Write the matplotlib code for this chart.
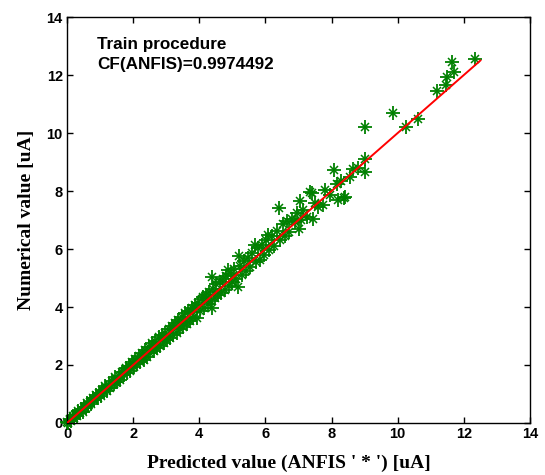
import matplotlib
matplotlib.use("Agg")
import matplotlib.pyplot as plt

# Predicted value (ANFIS) vs numerical value
x_pred = [0.00, 0.04, 0.08, 0.12, 0.17, 0.21, 0.25, 0.30, 0.34, 0.38, 0.43, 0.47,
          0.52, 0.56, 0.60, 0.65, 0.70, 0.74, 0.79, 0.83, 0.88, 0.93, 0.97, 1.02,
          1.07, 1.12, 1.16, 1.21, 1.26, 1.31, 1.36, 1.41, 1.46, 1.51, 1.56, 1.61,
          1.66, 1.71, 1.77, 1.82, 1.87, 1.92, 1.97,
          2.02, 2.07, 2.12, 2.17, 2.22, 2.27, 2.32, 2.37, 2.42, 2.47, 2.52, 2.57,
          2.62, 2.67, 2.72, 2.77, 2.82, 2.87, 2.92, 2.97, 3.02, 3.07, 3.12, 3.17,
          3.22, 3.27, 3.32, 3.37, 3.42, 3.47, 3.52, 3.57, 3.62, 3.67, 3.72, 3.77,
          3.82, 3.87, 3.92, 3.97,
          0.10, 0.35, 0.62, 0.90, 1.18, 1.45, 1.73, 2.00, 2.30, 2.60, 2.90, 3.20,
          3.50, 3.80,
          4.02, 4.07, 4.12, 4.15, 4.20, 4.25, 4.30, 4.35, 4.37, 4.37, 4.42, 4.47,
          4.52, 4.57, 4.62, 4.67, 4.72, 4.77, 4.82, 4.88, 4.90, 4.95, 5.00, 5.05,
          5.10, 5.18, 5.20, 5.22, 5.28, 5.35, 5.40, 5.47, 5.52, 5.60, 5.68, 5.72,
          5.78, 5.84, 5.90, 5.96,
          6.02, 6.09, 6.12, 6.20, 6.27, 6.35, 6.42, 6.45, 6.52, 6.58, 6.65, 6.72,
          6.80, 6.88, 6.95, 7.00, 7.05, 7.07, 7.15, 7.25, 7.35, 7.40, 7.45, 7.50,
          7.60, 7.75, 7.80, 7.95, 8.08, 8.15, 8.20, 8.30, 8.39, 8.40, 8.55, 8.65,
          8.80, 9.01, 9.01, 9.01,
          9.85, 10.25, 10.62, 11.18, 11.45, 11.48, 11.70, 11.63, 12.34]

y_num = [0.02, 0.01, 0.13, 0.08, 0.23, 0.16, 0.28, 0.23, 0.42, 0.36, 0.49, 0.39,
         0.56, 0.51, 0.69, 0.59, 0.73, 0.65, 0.86, 0.79, 0.98, 0.86, 1.02, 0.92,
         1.15, 1.09, 1.27, 1.12, 1.32, 1.19, 1.45, 1.36, 1.58, 1.41, 1.63, 1.48,
         1.76, 1.65, 1.91, 1.71, 1.95, 1.78, 2.09,
         1.93, 2.21, 2.04, 2.30, 2.10, 2.41, 2.18, 2.52, 2.29, 2.63, 2.40, 2.75,
         2.47, 2.83, 2.58, 2.96, 2.64, 3.05, 2.76, 3.12, 2.85, 3.25, 2.94, 3.33,
         3.05, 3.46, 3.12, 3.55, 3.25, 3.66, 3.31, 3.78, 3.42, 3.86, 3.51, 3.97,
         3.62, 4.08, 3.61, 4.15,
         0.10, 0.33, 0.64, 0.88, 1.20, 1.43, 1.76, 2.02, 2.27, 2.63, 2.88, 3.23,
         3.48, 3.83,
         3.85, 4.28, 4.36, 3.98, 4.40, 4.10, 4.52, 4.21, 5.02, 3.95, 4.62, 4.30,
         4.78, 4.41, 4.85, 4.50, 4.98, 4.60, 5.06, 5.28, 4.72, 5.15, 4.86, 5.30,
         4.95, 4.70, 5.76, 5.42, 5.12, 5.58, 5.25, 5.70, 5.38, 5.85, 6.14, 5.55,
         6.02, 5.62, 6.15, 5.80,
         6.30, 6.48, 5.95, 6.45, 6.10, 6.62, 7.40, 6.30, 6.85, 6.45, 6.95, 6.60,
         7.05, 6.92, 7.25, 6.68, 7.67, 7.00, 7.35, 7.10, 7.98, 7.92, 7.02, 7.60,
         7.45, 7.52, 8.05, 7.85, 8.72, 8.25, 7.69, 8.35, 7.75, 7.80, 8.50, 8.75,
         8.80, 9.09, 8.64, 10.20,
         10.70, 10.22, 10.50, 11.45, 11.66, 11.94, 12.11, 12.46, 12.54]

line_x = [0.0, 12.5]
line_y = [0.0, 12.5]

ticks = [0, 2, 4, 6, 8, 10, 12, 14]

green = (0, 0.5, 0)

fig = plt.figure(figsize=(5.45, 4.75), dpi=100)
ax = fig.add_axes([67/545, 1 - 423/475, 463/545, 406/475])

# MATLAB-style '*' marker: a long plus with shorter diagonals
ax.plot(x_pred, y_num, linestyle='none', marker='+', markersize=10,
        markeredgewidth=1.3, color=green, clip_on=False, zorder=2)
ax.plot(x_pred, y_num, linestyle='none', marker='x', markersize=6,
        markeredgewidth=1.1, color=green, clip_on=False, zorder=2)
ax.plot(line_x, line_y, color='red', linewidth=1.4, zorder=3)

ax.set_xlim(0, 14)
ax.set_ylim(0, 14)
ax.set_xticks(ticks)
ax.set_yticks(ticks)
ax.set_xticklabels([str(t) for t in ticks], fontfamily='Liberation Sans',
                   fontweight='bold', fontsize=10.5)
ax.set_yticklabels([str(t) for t in ticks], fontfamily='Liberation Sans',
                   fontweight='bold', fontsize=10.5)
ax.tick_params(direction='in', length=4, width=1, top=True, right=True, pad=3)
for s in ax.spines.values():
    s.set_linewidth(1.0)

ax.set_xlabel("Predicted value (ANFIS ' * ') [uA]", fontfamily='Liberation Serif',
              fontweight='bold', fontsize=14)
ax.xaxis.set_label_coords(0.48, -0.078)
ax.set_ylabel("Numerical value [uA]", fontfamily='Liberation Serif',
              fontweight='bold', fontsize=14, labelpad=8)

ax.text(0.065, 0.95, "Train procedure\nCF(ANFIS)=0.9974492", transform=ax.transAxes,
        fontfamily='Liberation Sans', fontweight='bold', fontsize=12.3,
        va='top', ha='left', linespacing=1.35)

fig.savefig("out.png", dpi=100)
